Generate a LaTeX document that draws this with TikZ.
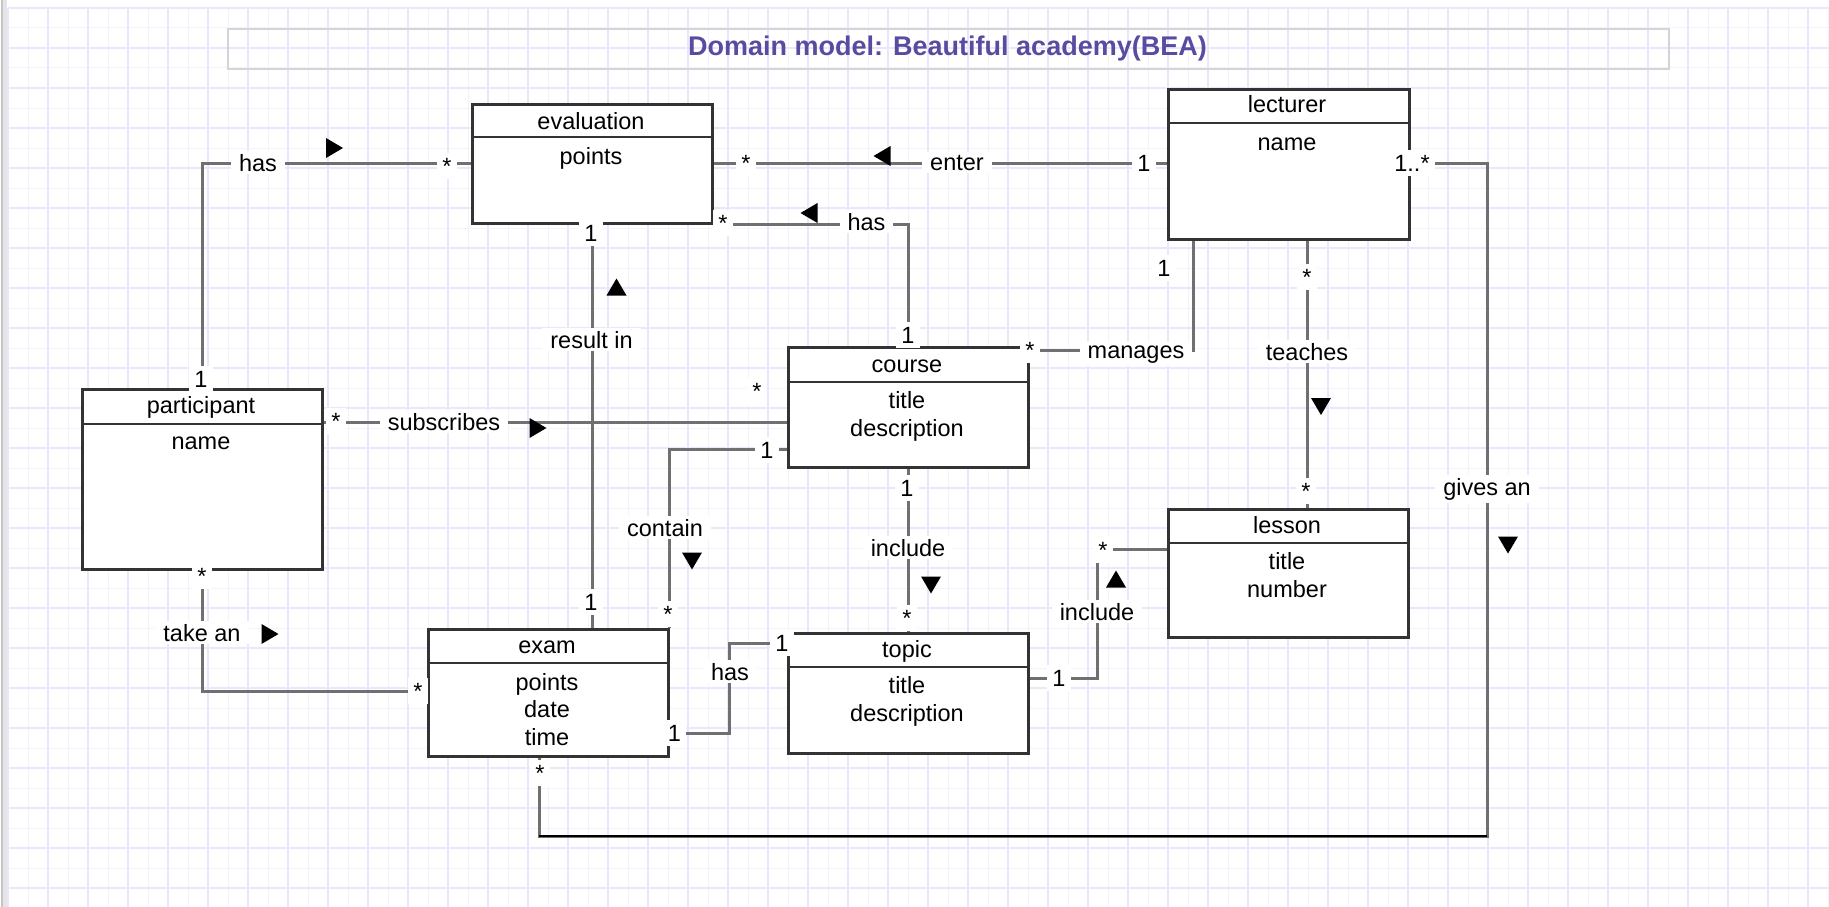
\documentclass[tikz,border=0pt]{standalone}
\usepackage{fontspec}
\setmainfont{Liberation Sans}
\definecolor{linec}{RGB}{112,112,112}
\definecolor{boxc}{RGB}{51,51,51}
\definecolor{gridmaj}{RGB}{232,231,251}
\definecolor{gridmin}{RGB}{243,242,253}
\definecolor{titlec}{RGB}{90,74,160}
\definecolor{tboxc}{RGB}{212,212,212}
\newcommand\fs{\fontsize{23.5}{27}\selectfont}
\newcommand\triR[2]{\fill (#1,#2) ++(-8.5,-10) -- ++(17,10) -- ++(-17,10) -- cycle;}
\newcommand\triL[2]{\fill (#1,#2) ++(8.5,-10) -- ++(-17,10) -- ++(17,10) -- cycle;}
\newcommand\triU[2]{\fill (#1,#2) ++(-10,8.5) -- ++(10,-17) -- ++(10,17) -- cycle;}
\newcommand\triD[2]{\fill (#1,#2) ++(-10,-8.5) -- ++(10,17) -- ++(10,-17) -- cycle;}
\begin{document}
\begin{tikzpicture}[x=1pt,y=-1pt,
  cls/.style={draw=boxc, line width=2.5pt, fill=white, inner sep=0pt, minimum width=240pt, anchor=north west},
  txt/.style={font=\fs, inner sep=0pt, anchor=base},
  lbl/.style={font=\fs, fill=white, inner xsep=8pt, inner ysep=3pt, anchor=base},
  mult/.style={font=\fs, fill=white, inner xsep=5pt, inner ysep=5pt, anchor=base},
  conn/.style={draw=linec, line width=3pt},
  sepl/.style={draw=boxc, line width=2.5pt}]
\useasboundingbox (0,0) rectangle (1829,907);
\fill[white] (0,0) rectangle (1829,907);
% grid
\foreach \x in {28,68,...,1828} \draw[gridmin, line width=1pt] (\x,8) -- (\x,907);
\foreach \y in {28,68,...,907} \draw[gridmin, line width=1pt] (8,\y) -- (1829,\y);
\foreach \x in {8,48,...,1828} \draw[gridmaj, line width=1.5pt] (\x,8) -- (\x,907);
\foreach \y in {8,48,...,907} \draw[gridmaj, line width=1.5pt] (8,\y) -- (1829,\y);
\fill[gray!45] (1,0) rectangle (3,907);
\fill[gray!20] (3,0) rectangle (7,907);
% title
\node[draw=tboxc, line width=2pt, minimum width=1441pt, minimum height=40pt, anchor=north west, inner sep=0pt] (tbox) at (227,28) {};
\node[font=\fontsize{27}{30}\selectfont\bfseries, text=titlec, inner sep=0pt, anchor=base] (title) at (947.5,56) {Domain model: Beautiful academy(BEA)};
% classes
\node[cls, minimum height=119pt] (eval) at (471,103) {};
\node[cls, minimum height=150pt, minimum width=241pt] (lect) at (1167,88) {};
\node[cls, minimum height=180pt] (part) at (81,388) {};
\node[cls, minimum height=120pt] (course) at (787,346) {};
\node[cls, minimum height=128pt] (lesson) at (1167,508) {};
\node[cls, minimum height=120pt] (topic) at (787,632) {};
\node[cls, minimum height=127pt] (exam) at (427,628) {};
% connectors
\draw[conn] (part.north) |- (eval.west |- 0,163);
\draw[conn] (eval.east |- 0,163) -- (lect.west |- 0,163);
\draw[conn] (eval.south east) -| (course.north);
\draw[conn] (eval.south) -- (exam.north -| eval.south);
\draw[conn] (part.east |- 0,422) -- (course.west |- 0,422);
\draw[conn] (course.west |- 0,449) -| (exam.north east);
\draw[conn] (course.south) -- (topic.north);
\draw[conn] (topic.east |- 0,678) -- (1097,678) -- (1097,549) -- (lesson.west |- 0,549);
\draw[conn] (exam.east |- 0,733) -- (729,733) |- (topic.west |- 0,643);
\draw[conn] (part.south) |- (exam.west |- 0,691);
\draw[conn] (lect.south -| 1193.5,0) |- (course.north east |- 0,350);
\draw[conn] (lect.south -| 1307,0) -- (lesson.north -| 1307,0);
\draw[conn] (lect.east |- 0,163) -- (1487,163) -- (1487,836) -- (539,836) -- (exam.south -| 539,0);
\draw[black, line width=2pt] (1487,836) -- (539,836);
% redraw class boxes on top
\node[cls, minimum height=119pt] (evalF) at (471,103) {};
\node[cls, minimum height=150pt, minimum width=241pt] (lectF) at (1167,88) {};
\node[cls, minimum height=180pt] (partF) at (81,388) {};
\node[cls, minimum height=120pt] (courseF) at (787,346) {};
\node[cls, minimum height=128pt] (lessonF) at (1167,508) {};
\node[cls, minimum height=120pt] (topicF) at (787,632) {};
\node[cls, minimum height=127pt] (examF) at (427,628) {};
% separators
\draw[sepl] (eval.west |- 0,137) -- (eval.east |- 0,137);
\draw[sepl] (lect.west |- 0,123) -- (lect.east |- 0,123);
\draw[sepl] (part.west |- 0,424) -- (part.east |- 0,424);
\draw[sepl] (course.west |- 0,382) -- (course.east |- 0,382);
\draw[sepl] (lesson.west |- 0,543) -- (lesson.east |- 0,543);
\draw[sepl] (topic.west |- 0,667) -- (topic.east |- 0,667);
\draw[sepl] (exam.west |- 0,663) -- (exam.east |- 0,663);
% class texts
\node[txt] (evalN) at (591,129) {evaluation};
\node[txt] (evalA1) at (591,164) {points};
\node[txt] (lectN) at (1287,113) {lecturer};
\node[txt] (lectA1) at (1287,150) {name};
\node[txt] (partN) at (201,413) {participant};
\node[txt] (partA1) at (201,449) {name};
\node[txt] (courseN) at (907,372) {course};
\node[txt] (courseA1) at (907,408) {title};
\node[txt] (courseA2) at (907,436) {description};
\node[txt] (lessonN) at (1287,533) {lesson};
\node[txt] (lessonA1) at (1287,569) {title};
\node[txt] (lessonA2) at (1287,597) {number};
\node[txt] (topicN) at (907,657) {topic};
\node[txt] (topicA1) at (907,693) {title};
\node[txt] (topicA2) at (907,721) {description};
\node[txt] (examN) at (547,653) {exam};
\node[txt] (examA1) at (547,690) {points};
\node[txt] (examA2) at (547,717) {date};
\node[txt] (examA3) at (547,745) {time};
% association labels
\node[lbl] (l1) at (258,171) {has};
\node[lbl] (l2) at (957,170) {enter};
\node[lbl] (l3) at (866.5,230) {has};
\node[lbl] (l4) at (591.5,348) {result in};
\node[lbl] (l5) at (444,430) {subscribes};
\node[lbl] (l6) at (665,536) {contain};
\node[lbl] (l7) at (908,556) {include};
\node[lbl] (l8) at (1097,620) {include};
\node[lbl] (l9) at (730,680) {has};
\node[lbl] (l10) at (202,641) {take an};
\node[lbl] (l11) at (1136,358) {manages};
\node[lbl] (l12) at (1307,360) {teaches};
\node[lbl] (l13) at (1487,495) {gives an};
% multiplicities
\node[mult] (m1) at (201,387) {1};
\node[mult] (m2) at (447,174) {*};
\node[mult] (m3) at (746,171) {*};
\node[mult] (m4) at (1144,171) {1};
\node[mult] (m5) at (723,231) {*};
\node[mult] (m6) at (908,343) {1};
\node[mult] (m7) at (591,241) {1};
\node[mult] (m8) at (591,610) {1};
\node[mult] (m9) at (336,429) {*};
\node[mult] (m10) at (757,399) {*};
\node[mult] (m11) at (767,458) {1};
\node[mult] (m12) at (668,622) {*};
\node[mult] (m13) at (907,496) {1};
\node[mult] (m14) at (907,626) {*};
\node[mult] (m15) at (1059,686) {1};
\node[mult] (m16) at (1103,558) {*};
\node[mult] (m17) at (674.5,741) {1};
\node[mult] (m18) at (782,651) {1};
\node[mult] (m19) at (202,584) {*};
\node[mult] (m20) at (418,699) {*};
\node[mult] (m21) at (1030,358) {*};
\node[mult] (m22) at (1164,276) {1};
\node[mult] (m23) at (1307,285) {*};
\node[mult] (m24) at (1306,499) {*};
\node[mult] (m25) at (1412,171) {1..*};
\node[mult] (m26) at (540,781) {*};
% direction triangles
\triR{334.5}{148}
\triL{882}{156}
\triL{809}{213}
\triU{616.5}{287}
\triR{538}{428}
\triD{692}{561}
\triD{931}{585}
\triU{1116}{579}
\triR{270}{634}
\triD{1321}{406.5}
\triD{1508}{545}
\end{tikzpicture}
\end{document}
